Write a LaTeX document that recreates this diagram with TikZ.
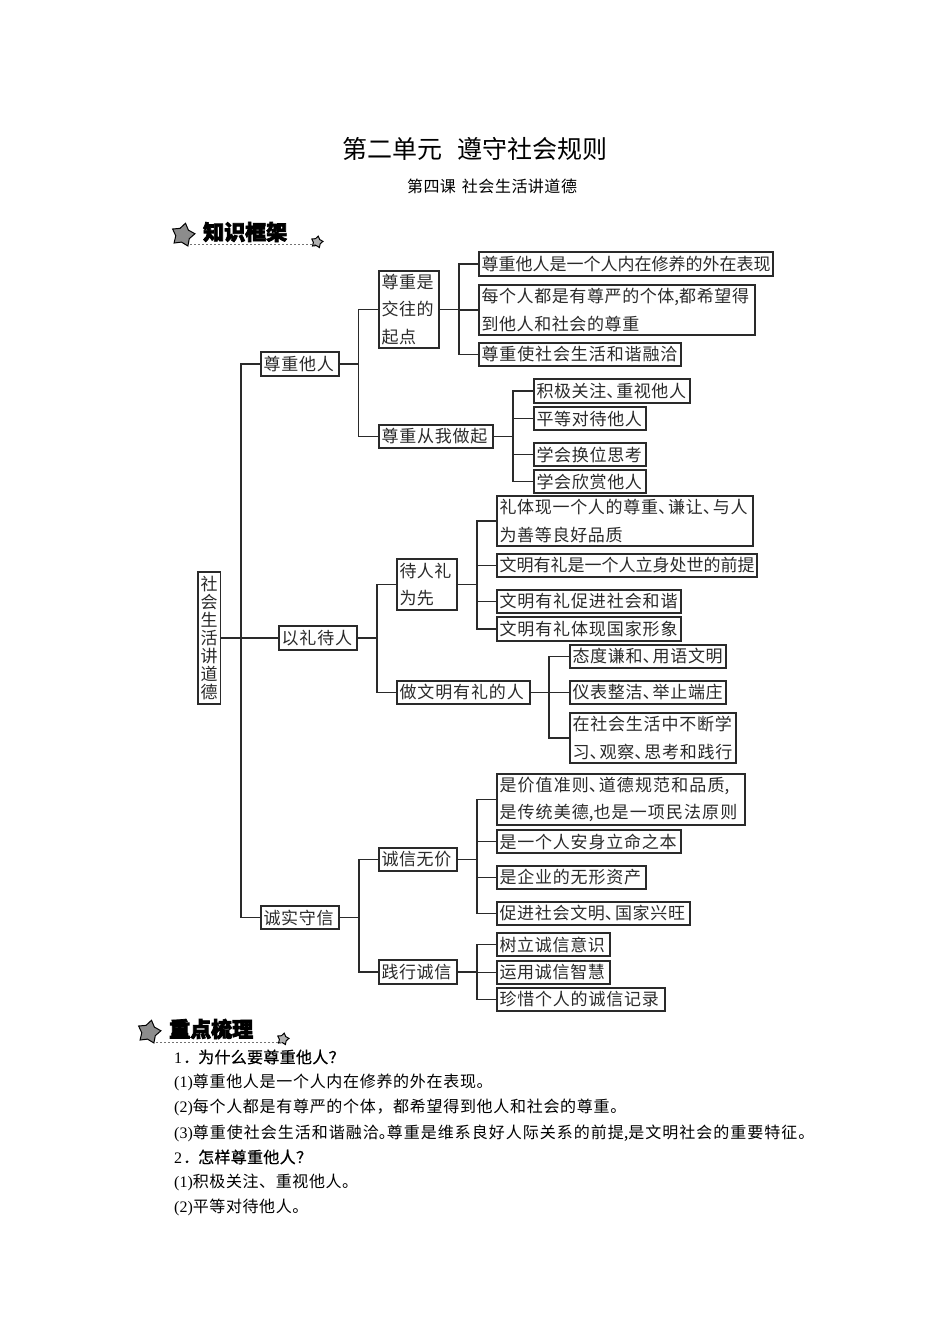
\documentclass[tikz,border=0pt]{standalone}
\usepackage{fontspec}
\usetikzlibrary{shapes.geometric}
\setmainfont{Noto Sans CJK SC}
\newfontfamily\cjkf{Noto Sans CJK SC}
\newfontfamily\cjkh[BoldFeatures={FakeBold=3.5}]{Noto Sans CJK SC}
\newfontfamily\cjkq[FakeBold=0.5]{Noto Sans CJK SC}
\newfontfamily\latf{Liberation Serif}
\newdimen\cjkgap
\XeTeXinterchartokenstate=1
\newcount\ci
\ci="4E00
\loop\XeTeXcharclass\ci=1 \advance\ci by 1 \ifnum\ci<"A000 \repeat
\XeTeXcharclass"3001=1
\XeTeXcharclass"3002=1
\XeTeXcharclass"FF0C=1
\XeTeXcharclass"FF1F=1
\XeTeXinterchartoks 1 1 = {\kern\cjkgap}
\newcommand\dun{\makebox[10pt][l]{、}}
\newcommand\qqdot{\makebox[8pt][l]{。}}
\def\ls{27.3}
\definecolor{ink}{HTML}{2A2A2A}
\tikzset{
  boxn/.style={draw=ink,line width=1.5pt,rectangle,inner ysep=0pt,inner xsep=2.5pt,align=left,text=ink},
  link/.style={draw=ink,line width=1.4pt},
  bigstar/.style={star,star points=5,star point ratio=1.65,minimum size=24pt,inner sep=0pt,draw=black,line width=1pt,fill=black!45,rotate=-12},
  smallstar/.style={star,star points=5,star point ratio=1.65,minimum size=12pt,inner sep=0pt,draw=black,line width=1pt,fill=black!30,rotate=-12},
  dots/.style={draw=black!55,line width=.9pt,dash pattern=on 2pt off 2pt},
  headn/.style={inner sep=0pt,anchor=west,text=black,font={\cjkh\bfseries\fontsize{21}{21}\selectfont}},
  bodyn/.style={inner sep=0pt,anchor=west,text=black},
}
\newcommand\bx[7]{%
  \pgfmathsetmacro\bw{#4-#2}\pgfmathsetmacro\bh{#5-#3}\pgfmathsetmacro\tw{#4-#2-5}%
  \node[boxn,minimum width=\bw pt,minimum height=\bh pt,text width=\tw pt,
    font={\cjkf\fontsize{17}{\ls}\selectfont\cjkgap=#6pt}]
    (#1) at ({(#2+#4)/2},{(#3+#5)/2}) {#7};}
\newcommand\fan[5]{%
  \coordinate (tr#1) at (#2,0);
  \draw[link] (#1.east) -- (#1.east -| tr#1);
  \draw[link,line cap=rect] (#3.west -| tr#1) -- (#4.west -| tr#1);
  \foreach \c in {#5}{\draw[link] (\c.west -| tr#1) -- (\c.west);}}
\begin{document}
\begin{tikzpicture}[x=1pt,y=-1pt]
\useasboundingbox[fill=white] (0,0) rectangle (950,1344);

% titles
\node[inner sep=0pt,anchor=center,text=black,font={\cjkf\fontsize{25}{25}\selectfont\cjkgap=.1pt}] (title) at (475,149) {第二单元\hspace{15pt}遵守社会规则};
\node[inner sep=0pt,anchor=center,text=black,font={\cjkf\fontsize{16}{16}\selectfont\cjkgap=.5pt}] (sub) at (492,186) {第四课\hspace{6pt}社会生活讲道德};

% heading 1
\node[bigstar] (s1) at (183,235) {};
\node[smallstar] (s2) at (317,242) {};
\node[headn] (h1) at (203,232) {知识框架};
\coordinate (d1a) at (190,244);
\draw[dots] (d1a) -- (d1a -| s2);

% heading 2
\node[bigstar] (s3) at (149,1032) {};
\node[smallstar] (s4) at (283,1039) {};
\node[headn] (h2) at (169,1029) {重点梳理};
\coordinate (d2a) at (156,1042);
\draw[dots] (d2a) -- (d2a -| s4);

% root
{\def\ls{18}
\bx{root}{198}{572}{220.5}{704}{0}{社\\会\\生\\活\\讲\\道\\德}}

% level 1
\bx{a}{261}{352}{339}{376}{0.8}{尊重他人}
\bx{b}{279}{626}{357}{650}{0.9}{以礼待人}
\bx{c}{261}{906}{339}{929}{0.7}{诚实守信}

% level 2
\bx{a1}{379}{271}{439}{348}{0.6}{尊重是\\交往的\\起点}
\bx{a2}{379}{425}{493}{448}{0.8}{尊重从我做起}
\bx{b1}{397}{559}{457}{610}{0.5}{待人礼\\为先}
\bx{b2}{397}{681}{530}{704}{0.9}{做文明有礼的人}
\bx{c1}{379}{848}{457}{871}{0.6}{诚信无价}
\bx{c2}{379}{960}{457}{984}{0.6}{践行诚信}

% level 3
\bx{a11}{479}{252}{773}{276}{0}{尊重他人是一个人内在修养的外在表现}
\bx{a12}{479}{285}{755}{335}{0.6}{每个人都是有尊严的个体,都希望得\\到他人和社会的尊重}
\bx{a13}{479}{343}{681}{366}{0.9}{尊重使社会生活和谐融洽}
\bx{a21}{534}{379}{690}{403}{0.6}{积极关注\dun 重视他人}
\bx{a22}{534}{407}{646}{430}{0.7}{平等对待他人}
\bx{a23}{534}{443}{646}{466}{0.7}{学会换位思考}
\bx{a24}{534}{470}{646}{493}{0.7}{学会欣赏他人}
\bx{b11}{497}{496}{753}{546}{0.7}{礼体现一个人的尊重\dun 谦让\dun 与人\\为善等良好品质}
\bx{b12}{497}{554}{757}{577}{0}{文明有礼是一个人立身处世的前提}
\bx{b13}{497}{590}{681}{613}{0.9}{文明有礼促进社会和谐}
\bx{b14}{497}{617}{681}{641}{0.9}{文明有礼体现国家形象}
\bx{b21}{570}{645}{726}{668}{0.7}{态度谦和\dun 用语文明}
\bx{b22}{570}{681}{726}{704}{0.7}{仪表整洁\dun 举止端庄}
\bx{b23}{570}{713}{736}{763}{0.8}{在社会生活中不断学\\习\dun 观察\dun 思考和践行}
\bx{c11}{497}{774}{745}{825}{1.1}{是价值准则\dun 道德规范和品质,\\是传统美德,也是一项民法原则}
\bx{c12}{497}{830}{681}{853}{0.8}{是一个人安身立命之本}
\bx{c13}{497}{866}{646}{889}{0.8}{是企业的无形资产}
\bx{c14}{497}{902}{690}{925}{0.7}{促进社会文明\dun 国家兴旺}
\bx{c21}{497}{933}{610}{956}{0.7}{树立诚信意识}
\bx{c22}{497}{961}{610}{984}{0.7}{运用诚信智慧}
\bx{c23}{497}{988}{665}{1011}{0.8}{珍惜个人的诚信记录}

% connectors
\fan{root}{241}{a}{c}{a,b,c}
\fan{a}{358.5}{a1}{a2}{a1,a2}
\fan{b}{377}{b1}{b2}{b1,b2}
\fan{c}{359}{c1}{c2}{c1,c2}
\fan{a1}{459}{a11}{a13}{a11,a12,a13}
\fan{a2}{513}{a21}{a24}{a21,a22,a23,a24}
\fan{b1}{477}{b11}{b14}{b11,b12,b13,b14}
\fan{b2}{549}{b21}{b23}{b21,b22,b23}
\fan{c1}{477}{c11}{c14}{c11,c12,c13,c14}
\fan{c2}{477}{c21}{c23}{c21,c22,c23}

% body text
\node[bodyn,font={\cjkq\fontsize{16}{16}\selectfont\cjkgap=0.3pt}] (q1) at (174,1057) {{\latf 1}\hspace{1pt}．\hspace{-1pt}为什么要尊重他人？};
\node[bodyn,font={\cjkf\fontsize{16}{16}\selectfont\cjkgap=0.7pt}] (l1) at (174,1082) {{\latf (1)}尊重他人是一个人内在修养的外在表现。};
\node[bodyn,font={\cjkf\fontsize{16}{16}\selectfont\cjkgap=0.7pt}] (l2) at (174,1107) {{\latf (2)}每个人都是有尊严的个体，都希望得到他人和社会的尊重。};
\node[bodyn,font={\cjkf\fontsize{16}{16}\selectfont\cjkgap=1pt}] (l3) at (174,1133) {{\latf (3)}尊重使社会生活和谐融洽\qqdot 尊重是维系良好人际关系的前提,是文明社会的重要特征。};
\node[bodyn,font={\cjkq\fontsize{16}{16}\selectfont\cjkgap=0.3pt}] (q2) at (174,1157) {{\latf 2}\hspace{1pt}．\hspace{-1pt}怎样尊重他人？};
\node[bodyn,font={\cjkf\fontsize{16}{16}\selectfont\cjkgap=0.6pt}] (l4) at (174,1182) {{\latf (1)}积极关注、重视他人。};
\node[bodyn,font={\cjkf\fontsize{16}{16}\selectfont\cjkgap=0.6pt}] (l5) at (174,1207) {{\latf (2)}平等对待他人。};
\end{tikzpicture}
\end{document}
